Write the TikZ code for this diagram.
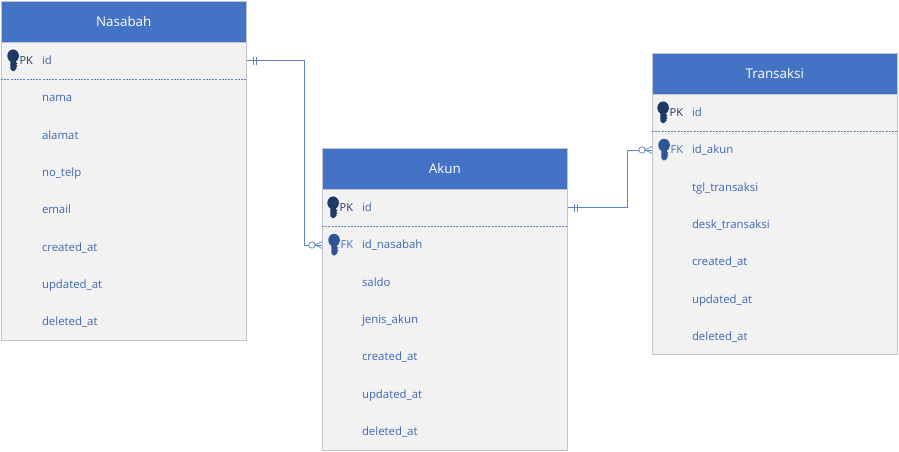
\documentclass[tikz,border=0pt]{standalone}
\usepackage{fontspec}
\setmainfont{Open Sans}
\usetikzlibrary{positioning,decorations.markings}
\definecolor{headblue}{HTML}{4472C4}
\definecolor{bodygrey}{HTML}{F2F2F2}
\definecolor{edgegrey}{HTML}{BFC4CE}
\definecolor{fieldblue}{HTML}{3E68B2}
\definecolor{linkblue}{HTML}{5B82CA}
\definecolor{keydark}{HTML}{1F3864}
\definecolor{keymid}{HTML}{2F5597}
\begin{document}
\begin{tikzpicture}[x=1pt,y=-1pt,outer sep=0pt,
tablebox/.style={draw=edgegrey,fill=bodygrey,minimum width=245.5pt,anchor=north west,inner sep=0pt},
tablehead/.style={draw=edgegrey,fill=headblue,text=white,minimum width=245.5pt,minimum height=41pt,inner sep=0pt,font=\fontsize{13.4}{15}\selectfont},
field/.style={text=fieldblue,text width=204pt,align=left,inner xsep=0pt,inner ysep=0pt,minimum height=37.3pt,text height=10.5pt,text depth=2.5pt,font=\fontsize{11.4}{13}\selectfont},
keytext/.style={inner sep=0pt,text height=10.5pt,text depth=2.5pt,font=\fontsize{11}{13}\selectfont},
keyline/.style={linkblue,line width=1pt,dash pattern=on 2pt off 1.2pt},
relline/.style={linkblue,line width=.9pt,postaction={decorate},decoration={markings,
    mark=at position 7pt with {\draw[linkblue,line width=.7pt] (0,-4) -- (0,4);},
    mark=at position 10pt with {\draw[linkblue,line width=.7pt] (0,-4) -- (0,4);},
    mark=at position 1 with {\draw[linkblue,line width=.7pt,fill=white] (-10,0) circle (3.2);
      \draw[linkblue,line width=.7pt] (0,-3.5) -- (-7,0) -- (0,3.5);
      \draw[linkblue,line width=.7pt] (-7,0) -- (0,0);}}},
keyicon/.pic={
    \fill[#1] (0,-4.8) ellipse (5.8 and 6.4);
    \fill[#1] (-2.8,0) -- (2.8,0) -- (2.8,1.5) -- (4.4,3) -- (2.8,4) -- (4.4,5.4) -- (2.8,6.6) -- (3.6,7.6) -- (1,10.4) -- (-0.8,10.4) -- (-2.8,8.2) -- cycle;
}]
\useasboundingbox (0,0) rectangle (899,451);

% Nasabah
\node (nasabahbox) [tablebox,minimum height=298pt] at (1,42) {};
\node (nasabahhead) [tablehead,above=0pt of nasabahbox] {Nasabah};
\node (nasabahid) [field,below right=0pt and 41pt of nasabahbox.north west] {id};
\node (nasabahnama) [field,below=0pt of nasabahid] {nama};
\node (nasabahalamat) [field,below=0pt of nasabahnama] {alamat};
\node (nasabahtelp) [field,below=0pt of nasabahalamat] {no\_telp};
\node (nasabahemail) [field,below=0pt of nasabahtelp] {email};
\node (nasabahcreated) [field,below=0pt of nasabahemail] {created\_at};
\node (nasabahupdated) [field,below=0pt of nasabahcreated] {updated\_at};
\node (nasabahdeleted) [field,below=0pt of nasabahupdated] {deleted\_at};
\node (nasabahpk) [keytext,text=keydark,left=9pt of nasabahid] {PK};
\pic at ([xshift=-6.5pt]nasabahpk.west) {keyicon=keydark};
\draw[keyline] (nasabahbox.west |- nasabahid.south) -- (nasabahbox.east |- nasabahid.south);

% Akun
\node (akunbox) [tablebox,minimum height=261pt] at (322,189) {};
\node (akunhead) [tablehead,above=0pt of akunbox] {Akun};
\node (akunid) [field,below right=0pt and 40pt of akunbox.north west] {id};
\node (akunnasabah) [field,below=0pt of akunid] {id\_nasabah};
\node (akunsaldo) [field,below=0pt of akunnasabah] {saldo};
\node (akunjenis) [field,below=0pt of akunsaldo] {jenis\_akun};
\node (akuncreated) [field,below=0pt of akunjenis] {created\_at};
\node (akunupdated) [field,below=0pt of akuncreated] {updated\_at};
\node (akundeleted) [field,below=0pt of akunupdated] {deleted\_at};
\node (akunpk) [keytext,text=keydark,left=9pt of akunid] {PK};
\node (akunfk) [keytext,text=headblue,left=9pt of akunnasabah] {FK};
\pic at ([xshift=-6.5pt]akunpk.west) {keyicon=keydark};
\pic at ([xshift=-6.5pt]akunfk.west) {keyicon=keymid};
\draw[keyline] (akunbox.west |- akunid.south) -- (akunbox.east |- akunid.south);

% Transaksi
\node (transaksibox) [tablebox,minimum height=260pt] at (652,94) {};
\node (transaksihead) [tablehead,above=0pt of transaksibox] {Transaksi};
\node (transaksiid) [field,below right=0pt and 40pt of transaksibox.north west] {id};
\node (transaksiakun) [field,below=0pt of transaksiid] {id\_akun};
\node (transaksitgl) [field,below=0pt of transaksiakun] {tgl\_transaksi};
\node (transaksidesk) [field,below=0pt of transaksitgl] {desk\_transaksi};
\node (transaksicreated) [field,below=0pt of transaksidesk] {created\_at};
\node (transaksiupdated) [field,below=0pt of transaksicreated] {updated\_at};
\node (transaksideleted) [field,below=0pt of transaksiupdated] {deleted\_at};
\node (transaksipk) [keytext,text=keydark,left=9pt of transaksiid] {PK};
\node (transaksifk) [keytext,text=headblue,left=9pt of transaksiakun] {FK};
\pic at ([xshift=-6.5pt]transaksipk.west) {keyicon=keydark};
\pic at ([xshift=-6.5pt]transaksifk.west) {keyicon=keymid};
\draw[keyline] (transaksibox.west |- transaksiid.south) -- (transaksibox.east |- transaksiid.south);

% relations
\draw[relline] (nasabahbox.east |- nasabahid) -- ([xshift=58pt]nasabahbox.east |- nasabahid) |- (akunbox.west |- akunnasabah);
\draw[relline] (akunbox.east |- akunid) -- ([xshift=60pt]akunbox.east |- akunid) |- (transaksibox.west |- transaksiakun);
\end{tikzpicture}
\end{document}
